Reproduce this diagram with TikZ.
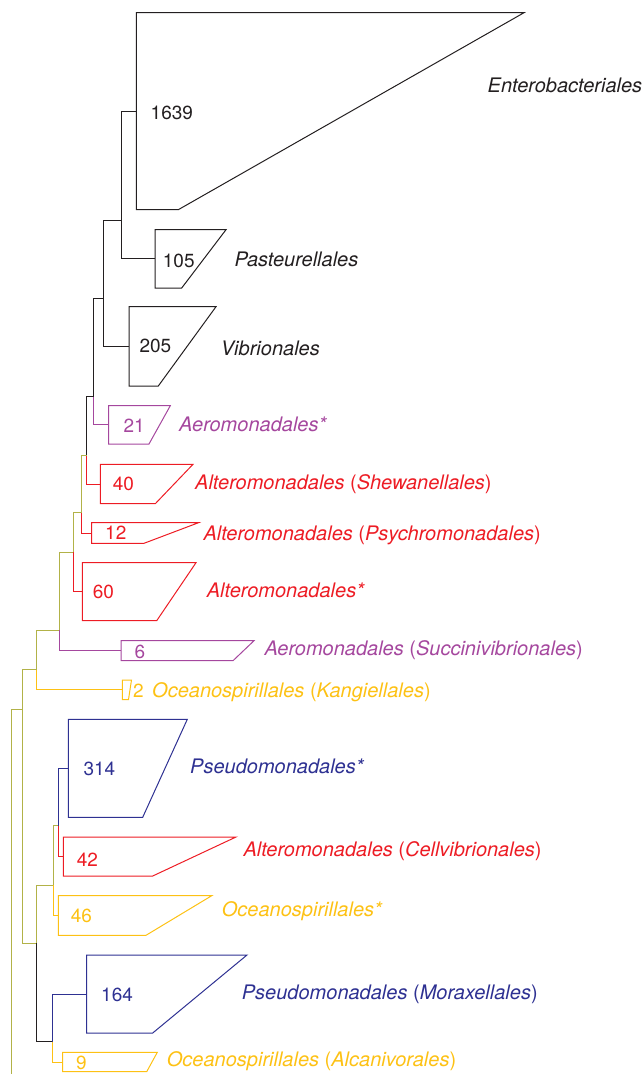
\documentclass[tikz,border=0pt]{standalone}
\usepackage{fontspec}
\setmainfont{TeX Gyre Heros}
\definecolor{ink}{RGB}{35,31,32}
\definecolor{aero}{RGB}{165,71,158}
\definecolor{alte}{RGB}{237,28,36}
\definecolor{ocea}{RGB}{253,193,20}
\definecolor{pseu}{RGB}{46,49,146}
\definecolor{trunk}{RGB}{178,178,72}
\tikzset{
  br/.style={line width=1pt},
  num/.style={anchor=base west, inner sep=0pt, font=\fontsize{19}{22}\selectfont},
  lbl/.style={anchor=base west, inner sep=0pt, font=\fontsize{20}{23}\selectfont},
}
% collapsed clade: name, left x, top y, bottom y, bottom-right x, top-right x, colour
\newcommand\cladebox[7]{%
  \draw[br,#7] (#2,#3) -- (#2,#4) -- (#5,#4) -- (#6,#3) -- cycle;
  \coordinate (#1) at (#2,{(#3+#4)/2});
}
\begin{document}
\begin{tikzpicture}[x=1pt,y=-1pt]
\useasboundingbox (0,0) rectangle (643,1074);

% collapsed clades
\cladebox{cEnt}{136.3}{12.7}{209.7}{178.3}{524}{ink}
\cladebox{cPas}{155}{229.7}{288}{181.7}{226}{ink}
\cladebox{cVib}{129}{306.7}{386}{158.3}{216}{ink}
\cladebox{cAer}{108.7}{405.7}{444}{149}{170.3}{aero}
\cladebox{cShe}{100.3}{464.3}{503.7}{155.3}{193}{alte}
\cladebox{cPsy}{91.7}{522.7}{543.3}{144}{198.5}{alte}
\cladebox{cAlt}{82.3}{562.7}{620.7}{156.7}{196}{alte}
\cladebox{cSuc}{121}{640.7}{660.7}{233}{254}{aero}
\cladebox{cKan}{122.3}{680}{699.5}{128.5}{131.5}{ocea}
\cladebox{cPse}{68.3}{719.3}{817.3}{142.7}{187.3}{pseu}
\cladebox{cCel}{63.3}{837}{876}{152.7}{236}{alte}
\cladebox{cOce}{58.3}{895.7}{935.3}{146}{211.7}{ocea}
\cladebox{cMor}{86.7}{955}{1033}{152.7}{247}{pseu}
\cladebox{cAlc}{62.7}{1052.3}{1071.7}{146.7}{157.3}{ocea}

% internal nodes
\coordinate (nE)   at (121.3,220.3);
\coordinate (nV)   at (103.7,298.5);
\coordinate (nA)   at (93.2,396.5);
\coordinate (nS)   at (86.7,455);
\coordinate (nP)   at (81,512.7);
\coordinate (nAl)  at (73.3,552.3);
\coordinate (nSu)  at (59.3,630);
\coordinate (nK)   at (36.7,669.3);
\coordinate (nUp)  at (22.3,709);
\coordinate (nLow) at (36.7,943.3);
\coordinate (nPs)  at (53.3,885);
\coordinate (nCe)  at (58.3,825.7);
\coordinate (nMx)  at (52.7,1041.7);
\coordinate (root) at (11.7,1074);

% branches
\draw[br,ink]   (nE) |- (cEnt);  \draw[br,ink]   (nE) |- (cPas);
\draw[br,ink]   (nV) |- (nE);    \draw[br,ink]   (nV) |- (cVib);
\draw[br,ink]   (nA) |- (nV);    \draw[br,aero]  (nA) |- (cAer);
\draw[br,ink]   (nS) |- (nA);    \draw[br,alte]  (nS) |- (cShe);
\draw[br,trunk] (nP) |- (nS);    \draw[br,alte]  (nP) |- (cPsy);
\draw[br,trunk] (nAl) |- (nP);   \draw[br,alte]  (nAl) |- (cAlt);
\draw[br,trunk] (nSu) |- (nAl);  \draw[br,aero]  (nSu) |- (cSuc);
\draw[br,trunk] (nK) |- (nSu);   \draw[br,ocea]  (nK) |- (cKan);
\draw[br,trunk] (nUp) |- (nK);   \draw[br,trunk] (nUp) |- (nLow);
\draw[br,trunk] (nLow) |- (nPs); \draw[br,ink]   (nLow) |- (nMx);
\draw[br,trunk] (nPs) |- (nCe);  \draw[br,ocea]  (nPs) |- (cOce);
\draw[br,pseu]  (nCe) |- (cPse); \draw[br,alte]  (nCe) |- (cCel);
\draw[br,pseu]  (nMx) |- (cMor); \draw[br,ocea]  (nMx) |- (cAlc);
\draw[br,trunk] (root) |- (nUp);

% clade sizes
\node[num,ink]  (k1) at (150.5,119)   {1639};
\node[num,ink]  (k2) at (162.7,267)   {105};
\node[num,ink]  (k3) at (139.3,352.5) {205};
\node[num,aero] (k4) at (123.3,432)   {21};
\node[num,alte] (k5) at (112.7,490.5) {40};
\node[num,alte] (k6) at (105,539)     {12};
\node[num,alte] (k7) at (92.7,598)    {60};
\node[num,aero] (k8) at (134.3,658.5) {6};
\node[num,ocea] (k9) at (133,697)     {2};
\node[num,pseu] (k10) at (83.3,775)   {314};
\node[num,alte] (k11) at (76.7,866)   {42};
\node[num,ocea] (k12) at (70.7,922.5) {46};
\node[num,pseu] (k13) at (101,1001)   {164};
\node[num,ocea] (k14) at (76,1069)    {9};

% order names
\node[lbl,ink]  (t1) at (487.5,92)  {\itshape Enterobacteriales};
\node[lbl,ink]  (t2) at (234.3,266.7) {\itshape Pasteurellales};
\node[lbl,ink]  (t3) at (220.7,355) {\itshape Vibrionales};
\node[lbl,aero] (t4) at (179,431.7) {\itshape Aeromonadales*};
\node[lbl,alte] (t5) at (195,489)   {\textit{Alteromonadales} (\textit{Shewanellales})};
\node[lbl,alte] (t6) at (203.3,540) {\textit{Alteromonadales} (\textit{Psychromonadales})};
\node[lbl,alte] (t7) at (206.7,597) {\itshape Alteromonadales*};
\node[lbl,aero] (t8) at (264.3,655) {\textit{Aeromonadales} (\textit{Succinivibrionales})};
\node[lbl,ocea] (t9) at (152,697)   {\textit{Oceanospirillales} (\textit{Kangiellales})};
\node[lbl,pseu] (t10) at (190,773)  {\itshape Pseudomonadales*};
\node[lbl,alte] (t11) at (243.3,856) {\textit{Alteromonadales} (\textit{Cellvibrionales})};
\node[lbl,ocea] (t12) at (221.7,916) {\itshape Oceanospirillales*};
\node[lbl,pseu] (t13) at (241.7,999) {\textit{Pseudomonadales} (\textit{Moraxellales})};
\node[lbl,ocea] (t14) at (166.7,1066) {\textit{Oceanospirillales} (\textit{Alcanivorales})};
\end{tikzpicture}
\end{document}
